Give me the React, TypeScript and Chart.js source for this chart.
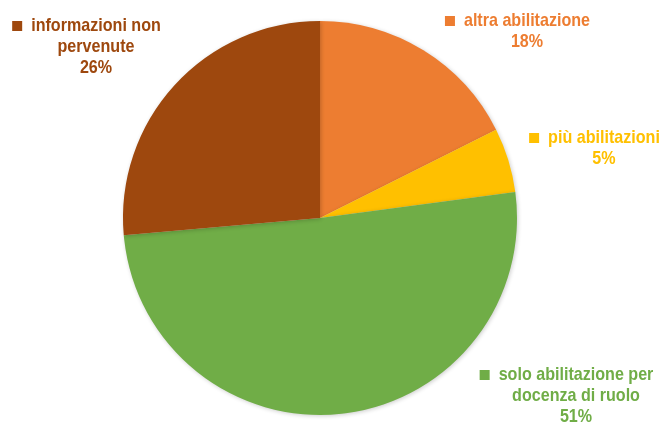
import React, { useEffect, useRef } from "react";
import { Chart, registerables } from "chart.js";

Chart.register(...registerables);

const categories: string[][] = [
  ["altra abilitazione"],
  ["più abilitazioni"],
  ["solo abilitazione per", "docenza di ruolo"],
  ["informazioni non", "pervenute"],
];
const values: number[] = [17.6, 5.3, 50.7, 26.4];
const colors: string[] = ["#ED7D31", "#FFC000", "#70AD47", "#9E480E"];

// label anchor layout (center x of text block, top line y)
const labelPos = [
  { cx: 527, y: 21 },
  { cx: 604, y: 138 },
  { cx: 576, y: 375 },
  { cx: 96, y: 26 },
];

const FONT = 'bold 18.5px "Liberation Sans", Arial, sans-serif';
const NARROW = 0.87;

const shadowPlugin = {
  id: "pieShadow",
  beforeDatasetDraw(chart: any) {
    const ctx = chart.ctx;
    ctx.save();
    ctx.shadowColor = "rgba(0,0,0,0.2)";
    ctx.shadowBlur = 4;
    ctx.shadowOffsetX = 1;
    ctx.shadowOffsetY = 1;
  },
  afterDatasetDraw(chart: any) {
    chart.ctx.restore();
  },
};

const labelPlugin = {
  id: "pieLabels",
  afterDraw(chart: any) {
    const ctx = chart.ctx;
    const data = chart.data.datasets[0].data as number[];
    const total = data.reduce((a, b) => a + b, 0);
    ctx.save();
    ctx.font = FONT;
    ctx.textBaseline = "middle";
    ctx.textAlign = "center";
    const lh = 21;
    categories.forEach((lines, i) => {
      const p = labelPos[i];
      const col = colors[i];
      ctx.fillStyle = col;
      const all = [...lines, Math.round((data[i] / total) * 100) + "%"];
      all.forEach((t, j) => {
        ctx.save();
        ctx.translate(p.cx, p.y + j * lh);
        ctx.scale(NARROW, 1);
        ctx.fillText(t, 0, 0);
        ctx.restore();
      });
      const w0 = ctx.measureText(lines[0]).width * NARROW;
      const mx = p.cx - w0 / 2 - 19;
      ctx.fillRect(mx, p.y - 5, 10, 10);
    });
    ctx.restore();
  },
};

export default function App() {
  const ref = useRef<HTMLCanvasElement>(null);
  useEffect(() => {
    document.body.style.margin = "0";
    const chart = new Chart(ref.current!, {
      type: "pie",
      data: {
        labels: categories.map((c) => c.join(" ")),
        datasets: [
          {
            data: values,
            backgroundColor: colors,
            borderWidth: 0,
          },
        ],
      },
      options: {
        animation: false,
        responsive: false,
        layout: { padding: { top: 21, bottom: 13, left: 123, right: 149 } },
        plugins: { legend: { display: false }, tooltip: { enabled: false } },
      },
      plugins: [shadowPlugin, labelPlugin],
    });
    return () => chart.destroy();
  }, []);
  return (
    <div style={{ width: 666, height: 428, background: "#fff" }}>
      <canvas ref={ref} width={666} height={428} style={{ width: 666, height: 428, display: "block" }} />
    </div>
  );
}
